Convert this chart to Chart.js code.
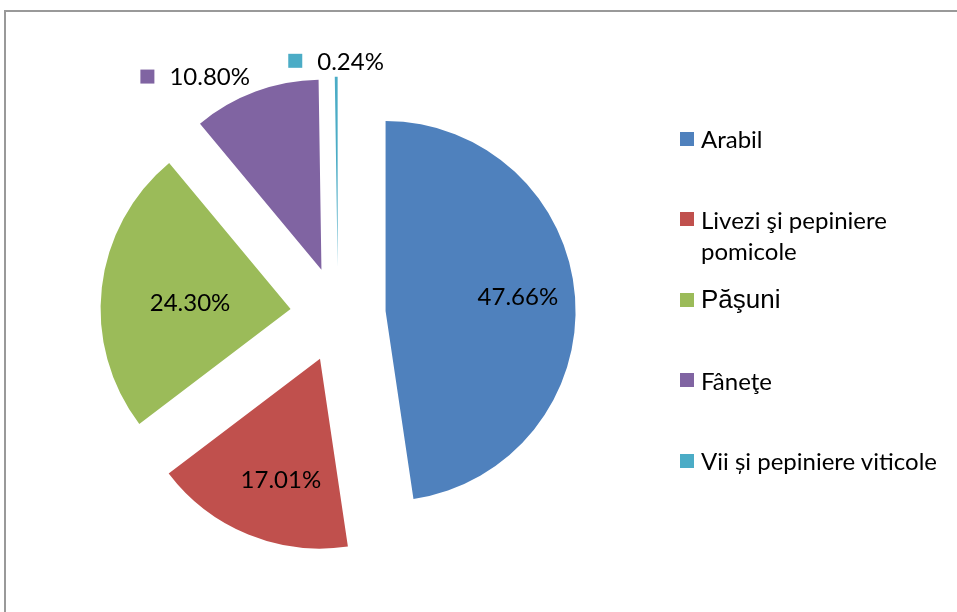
<!DOCTYPE html>
<html>
<head>
<meta charset="utf-8">
<title>Structura fondului funciar agricol</title>
<script src="https://cdn.jsdelivr.net/npm/chart.js@4.4.0/dist/chart.umd.min.js"></script>
<style>
  html, body { margin: 0; padding: 0; background: #fff; overflow: hidden; }
  #frame { position: absolute; left: 4px; top: 10px; width: 1000px; height: 1000px; border: 2px solid #999; }
  #chart { position: absolute; left: 0; top: 0; }
  #legend { position: absolute; left: 680px; top: 0; font-family: Lato, sans-serif; font-size: 24px; color: #000; }
  .item { position: absolute; left: 0; display: flex; align-items: flex-start; width: 275px; line-height: 31px; white-space: nowrap; }
  .box { width: 14px; height: 14px; margin-top: 8.5px; margin-right: 7px; flex: none; }
</style>
</head>
<body>
<div id="frame"></div>
<canvas id="chart" width="957" height="612"></canvas>
<div id="legend"></div>
<script>
// Data
const categories = ['Arabil', ['Livezi şi pepiniere', 'pomicole'], 'Păşuni', 'Fâneţe', 'Vii și pepiniere viticole'];
const shares = [47.66, 17.01, 24.30, 10.80, 0.24];
const colors = ['#4F81BD', '#C0504D', '#9BBB59', '#8064A2', '#4BACC6'];

// Label placement (style): where inside labels sit within their slice, which labels go outside
const labelSweep = [0.49, 0.43, 0.46, 0, 0];
const labelDepth = [0.70, 0.67, 0.53, 0, 0];
const outsideLabel = [false, false, false, true, true];
const legendFonts = [null, null, '26px "Liberation Sans", Arial, sans-serif', null, null];

// Pull every slice away from the centre by the same distance
const explodePlugin = {
    id: 'explode',
    beforeDatasetDraw(chart, args, opts) {
        const ctx = chart.ctx;
        args.meta.data.forEach(arc => {
            const mid = (arc.startAngle + arc.endAngle) / 2;
            ctx.save();
            ctx.translate(Math.cos(mid) * opts.distance, Math.sin(mid) * opts.distance);
            arc.draw(ctx);
            ctx.restore();
        });
        return false;
    }
};

// Percentage labels, outside ones get a colour key in front
const pctLabelPlugin = {
    id: 'pctLabels',
    afterDatasetsDraw(chart) {
        const ctx = chart.ctx;
        const dist = chart.options.plugins.explode.distance;
        const meta = chart.getDatasetMeta(0);
        ctx.save();
        ctx.font = '24px Lato, sans-serif';
        ctx.fillStyle = '#000';
        ctx.textBaseline = 'middle';
        meta.data.forEach((arc, i) => {
            const mid = (arc.startAngle + arc.endAngle) / 2;
            const ax = arc.x + Math.cos(mid) * dist;
            const ay = arc.y + Math.sin(mid) * dist;
            const text = shares[i].toFixed(2) + '%';
            if (!outsideLabel[i]) {
                const a = arc.startAngle + labelSweep[i] * (arc.endAngle - arc.startAngle);
                const r = arc.outerRadius * labelDepth[i];
                ctx.textAlign = 'center';
                ctx.fillText(text, ax + Math.cos(a) * r, ay + Math.sin(a) * r);
                return;
            }
            const r = arc.outerRadius + 16;
            const px = ax + Math.cos(mid) * r;
            const py = ay + Math.sin(mid) * r;
            const tw = ctx.measureText(text).width;
            const groupW = 14 + 15 + tw;
            let left;
            if (Math.abs(Math.cos(mid)) < 0.3) left = px - groupW / 2;
            else if (Math.cos(mid) < 0) left = px - groupW;
            else left = px;
            ctx.fillStyle = colors[i];
            ctx.fillRect(left, py - 7, 14, 14);
            ctx.fillStyle = '#000';
            ctx.textAlign = 'left';
            ctx.fillText(text, left + 29, py + 1);
        });
        ctx.restore();
    }
};

new Chart(document.getElementById('chart'), {
    type: 'pie',
    data: {
        labels: categories,
        datasets: [{
            data: shares,
            backgroundColor: colors,
            borderWidth: 0
        }]
    },
    options: {
        responsive: false,
        animation: false,
        radius: 190,
        layout: { padding: { left: 0, right: 281, top: 17, bottom: 0 } },
        plugins: {
            legend: { display: false },
            tooltip: { enabled: false },
            explode: { distance: 47.7 }
        },
        events: []
    },
    plugins: [explodePlugin, pctLabelPlugin]
});

// Legend on the right
const legend = document.getElementById('legend');
categories.forEach((label, i) => {
    const item = document.createElement('div');
    item.className = 'item';
    item.style.top = (138.5 + i * 80.6 - 15.5) + 'px';
    const box = document.createElement('span');
    box.className = 'box';
    box.style.background = colors[i];
    const txt = document.createElement('span');
    txt.innerHTML = Array.isArray(label) ? label.join('<br>') : label;
    if (legendFonts[i]) txt.style.font = legendFonts[i];
    txt.style.lineHeight = '31px';
    item.appendChild(box);
    item.appendChild(txt);
    legend.appendChild(item);
});
</script>
</body>
</html>
